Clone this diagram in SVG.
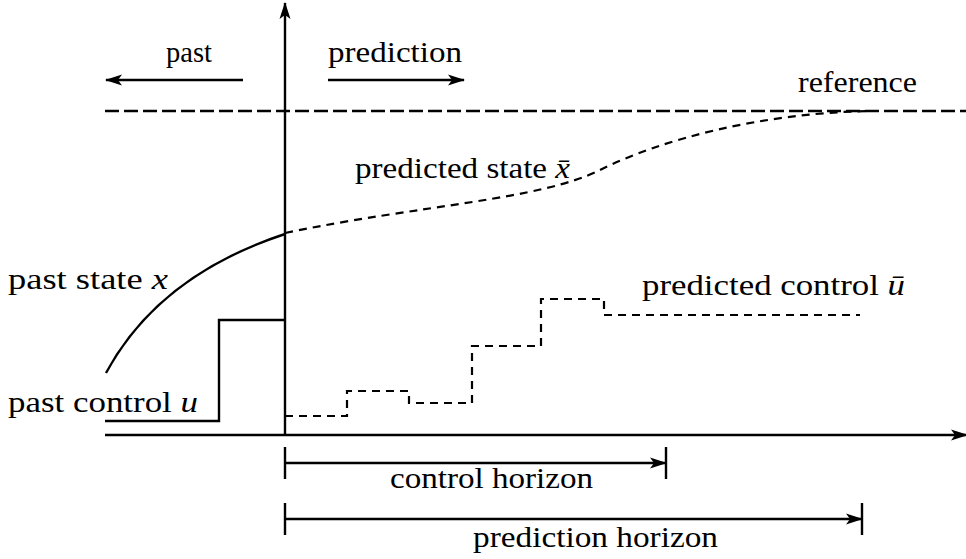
<svg xmlns="http://www.w3.org/2000/svg" width="966" height="559" viewBox="0 0 966 559">
<style>
  .solid { fill: none; stroke: #000; stroke-width: 2.4; }
  .dash { fill: none; stroke: #000; stroke-width: 2.2; stroke-dasharray: 8 6; }
  .refdash { fill: none; stroke: #000; stroke-width: 2.4; stroke-dasharray: 14 5; }
  .t { font-family: "Liberation Serif", "Times New Roman", serif; font-size: 29px; fill: #000; }
  .m { font-style: italic; }
</style>
<defs>
  <marker id="ah" markerUnits="userSpaceOnUse" markerWidth="18" markerHeight="14" viewBox="0 0 18 14" refX="16" refY="7" orient="auto">
    <path d="M0,1.5 L17,7 L0,12.5 L4,7 Z" fill="#000"/>
  </marker>
</defs>
<rect width="966" height="559" fill="#fff"/>

<g id="connectors">
  <line id="y-axis" class="solid" x1="285" y1="435" x2="285" y2="3" marker-end="url(#ah)"/>
  <line id="x-axis" class="solid" x1="105" y1="435" x2="967" y2="435" marker-end="url(#ah)"/>
  <line class="solid" x1="243" y1="80" x2="106" y2="80" marker-end="url(#ah)"/>
  <line class="solid" x1="328" y1="80" x2="464" y2="80" marker-end="url(#ah)"/>
  <line class="solid" x1="285" y1="447" x2="285" y2="479"/>
  <line class="solid" x1="285" y1="463" x2="666" y2="463" marker-end="url(#ah)"/>
  <line class="solid" x1="666" y1="447" x2="666" y2="479"/>
  <line class="solid" x1="285" y1="503" x2="285" y2="535"/>
  <line class="solid" x1="285" y1="519" x2="862" y2="519" marker-end="url(#ah)"/>
  <line class="solid" x1="862" y1="503" x2="862" y2="535"/>
</g>

<g id="reference">
  <line class="refdash" x1="105" y1="111" x2="966" y2="111"/>
  <text class="t" x="798" y="92" textLength="119" lengthAdjust="spacingAndGlyphs">reference</text>
</g>

<g id="past-state">
  <path class="solid" d="M106,373 C140,310 200,262 285,234"/>
  <text class="t" x="8" y="289" textLength="160" lengthAdjust="spacingAndGlyphs">past state <tspan class="m">x</tspan></text>
</g>

<g id="predicted-state">
  <path class="dash" d="M285,233 C420,205 540,200 600,170 C660,140 760,113 870,111"/>
  <text class="t" x="355" y="178" textLength="215" lengthAdjust="spacingAndGlyphs">predicted state <tspan class="m">x̄</tspan></text>
</g>

<g id="past-control">
  <path class="solid" d="M105,421 H219 V320 H285"/>
  <text class="t" x="8" y="412" textLength="190" lengthAdjust="spacingAndGlyphs">past control <tspan class="m">u</tspan></text>
</g>

<g id="predicted-control">
  <path class="dash" d="M285,416 H347 V391 H409 V403 H472 V346 H541 V299 H604 V315 H860"/>
  <text class="t" x="642" y="295" textLength="263" lengthAdjust="spacingAndGlyphs">predicted control <tspan class="m">ū</tspan></text>
</g>

<g id="labels">
  <text class="t" x="166" y="62" textLength="46" lengthAdjust="spacingAndGlyphs">past</text>
  <text class="t" x="328" y="62" textLength="134" lengthAdjust="spacingAndGlyphs">prediction</text>
  <text class="t" x="390" y="488" textLength="203" lengthAdjust="spacingAndGlyphs">control horizon</text>
  <text class="t" x="473" y="547" textLength="245" lengthAdjust="spacingAndGlyphs">prediction horizon</text>
</g>
</svg>
